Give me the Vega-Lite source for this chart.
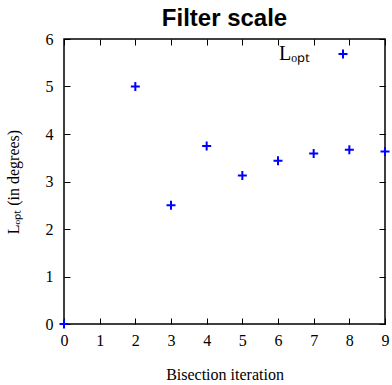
{
  "$schema": "https://vega.github.io/schema/vega-lite/v6.json",
  "autosize": "none",
  "width": 321,
  "height": 285,
  "padding": {"left": 64, "top": 39, "right": 7, "bottom": 61},
  "background": "white",
  "title": {"text": "Filter scale", "font": "Liberation Sans", "fontSize": 24, "fontWeight": "bold", "color": "black", "offset": 0},
  "data": {"values": [
    {"iteration": 0, "L": 0, "series": "Lₒₚₜ"},
    {"iteration": 2, "L": 5, "series": "Lₒₚₜ"},
    {"iteration": 3, "L": 2.5, "series": "Lₒₚₜ"},
    {"iteration": 4, "L": 3.75, "series": "Lₒₚₜ"},
    {"iteration": 5, "L": 3.125, "series": "Lₒₚₜ"},
    {"iteration": 6, "L": 3.4375, "series": "Lₒₚₜ"},
    {"iteration": 7, "L": 3.59, "series": "Lₒₚₜ"},
    {"iteration": 8, "L": 3.67, "series": "Lₒₚₜ"},
    {"iteration": 9, "L": 3.63, "series": "Lₒₚₜ"}
  ]},
  "config": {
    "view": {"stroke": "black", "strokeWidth": 1.5},
    "axis": {
      "labelFont": "Liberation Serif", "labelFontSize": 16, "labelColor": "black",
      "titleFont": "Liberation Serif", "titleFontSize": 16, "titleFontWeight": "normal", "titleColor": "black",
      "grid": false, "domain": false, "tickColor": "black", "tickSize": -6, "tickWidth": 1
    }
  },
  "layer": [
    {
      "mark": {"type": "point", "shape": "M-1,0H1M0,-1V1", "filled": false, "strokeWidth": 2, "size": 81, "opacity": 1, "clip": false},
      "encoding": {
        "x": {"field": "iteration", "type": "quantitative", "scale": {"domain": [0, 9], "nice": false, "zero": false},
          "axis": {"orient": "bottom", "values": [0,1,2,3,4,5,6,7,8,9], "title": "Bisection iteration", "labelPadding": 14, "titlePadding": 18, "labelFlush": false}},
        "y": {"field": "L", "type": "quantitative", "scale": {"domain": [0, 6], "nice": false},
          "axis": {"orient": "left", "values": [0,1,2,3,4,5,6], "title": "Lₒₚₜ (in degrees)", "labelPadding": 17, "titlePadding": 24, "labelFlush": false}},
        "color": {"field": "series", "type": "nominal", "scale": {"range": ["#0000ff"]},
          "legend": {"orient": "none", "legendX": 269, "legendY": 5, "title": null, "labelFont": "Liberation Serif", "labelFontSize": 20, "labelColor": "black",
            "symbolType": "M-1,0H1M0,-1V1", "symbolSize": 81, "symbolStrokeWidth": 2, "symbolFillColor": "transparent", "symbolOpacity": 1,
            "labelAlign": "right", "labelOffset": -43, "padding": 0}}
      }
    },
    {
      "mark": {"type": "point", "opacity": 0},
      "encoding": {
        "x": {"field": "iteration", "type": "quantitative", "axis": {"orient": "top", "values": [0,1,2,3,4,5,6,7,8,9], "labels": false, "title": null}},
        "y": {"field": "L", "type": "quantitative", "axis": {"orient": "right", "values": [0,1,2,3,4,5,6], "labels": false, "title": null}}
      }
    }
  ],
  "resolve": {"axis": {"x": "independent", "y": "independent"}}
}
